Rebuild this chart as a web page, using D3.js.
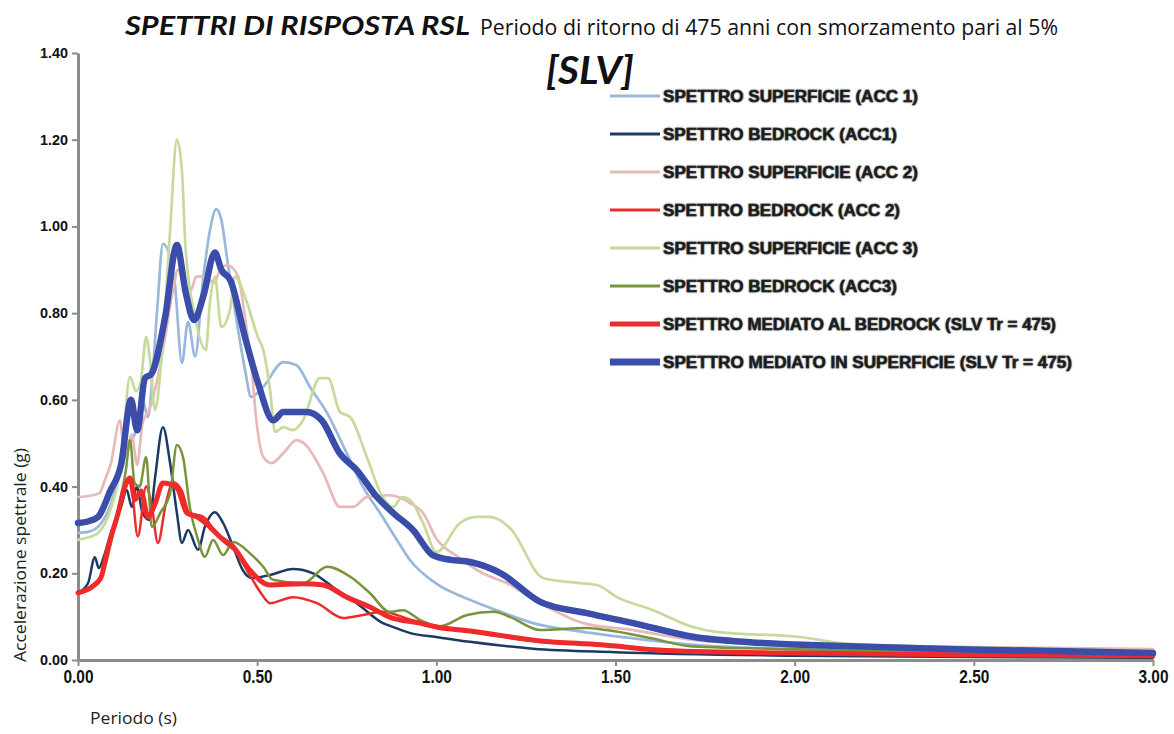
<!DOCTYPE html>
<html>
<head>
<meta charset="utf-8">
<script src="https://cdn.jsdelivr.net/npm/d3@7"></script>
<style>
  body { margin: 0; background: #fff; }
  svg { display: block; }
</style>
</head>
<body>
<svg id="chart" width="1174" height="734"></svg>
<script>
// Response spectra, period (s) vs spectral acceleration (g)
const supAcc1 = [[0,0.293],[0.03,0.296],[0.056,0.307],[0.092,0.36],[0.12,0.44],[0.14,0.49],[0.162,0.53],[0.18,0.60],[0.195,0.56],[0.21,0.68],[0.222,0.82],[0.237,0.96],[0.257,0.93],[0.27,0.87],[0.29,0.685],[0.307,0.78],[0.327,0.70],[0.348,0.87],[0.368,0.99],[0.386,1.04],[0.40,1.015],[0.418,0.915],[0.447,0.76],[0.466,0.67],[0.483,0.607],[0.517,0.63],[0.573,0.687],[0.61,0.68],[0.647,0.63],[0.695,0.57],[0.75,0.477],[0.795,0.40],[0.85,0.33],[0.89,0.277],[0.927,0.23],[1.0,0.176],[1.09,0.14],[1.18,0.111],[1.27,0.085],[1.41,0.065],[1.55,0.05],[1.72,0.035],[2.0,0.025],[2.5,0.018],[3.0,0.014]];
const bedAcc1 = [[0,0.155],[0.028,0.177],[0.047,0.237],[0.058,0.212],[0.075,0.246],[0.092,0.293],[0.12,0.353],[0.136,0.392],[0.15,0.353],[0.164,0.40],[0.18,0.34],[0.2,0.323],[0.215,0.42],[0.237,0.537],[0.257,0.454],[0.276,0.339],[0.29,0.27],[0.307,0.30],[0.335,0.254],[0.354,0.307],[0.382,0.341],[0.405,0.316],[0.433,0.261],[0.46,0.207],[0.485,0.189],[0.536,0.196],[0.6,0.21],[0.656,0.2],[0.712,0.168],[0.778,0.131],[0.851,0.085],[0.88,0.076],[0.927,0.062],[1.0,0.053],[1.094,0.042],[1.27,0.026],[1.5,0.018],[2.0,0.01],[2.5,0.007],[3.0,0.005]];
const supAcc2 = [[0,0.376],[0.04,0.38],[0.06,0.385],[0.075,0.415],[0.092,0.454],[0.117,0.553],[0.13,0.47],[0.15,0.52],[0.165,0.45],[0.18,0.546],[0.2,0.58],[0.223,0.653],[0.243,0.745],[0.265,0.853],[0.279,0.90],[0.30,0.86],[0.315,0.853],[0.33,0.884],[0.355,0.884],[0.38,0.87],[0.40,0.906],[0.418,0.91],[0.447,0.884],[0.466,0.79],[0.483,0.685],[0.5,0.537],[0.517,0.468],[0.54,0.454],[0.573,0.477],[0.61,0.507],[0.63,0.50],[0.685,0.43],[0.731,0.353],[0.768,0.353],[0.806,0.376],[0.87,0.38],[0.927,0.362],[0.963,0.339],[1.0,0.28],[1.06,0.238],[1.13,0.20],[1.197,0.177],[1.29,0.131],[1.41,0.085],[1.55,0.069],[1.72,0.046],[2.0,0.035],[2.5,0.03],[3.0,0.025]];
const bedAcc2 = [[0,0.155],[0.03,0.165],[0.06,0.185],[0.085,0.26],[0.11,0.33],[0.13,0.39],[0.145,0.42],[0.167,0.285],[0.19,0.40],[0.205,0.36],[0.223,0.27],[0.245,0.36],[0.265,0.41],[0.29,0.39],[0.31,0.34],[0.33,0.335],[0.35,0.33],[0.38,0.30],[0.41,0.27],[0.44,0.25],[0.48,0.195],[0.51,0.155],[0.536,0.131],[0.6,0.145],[0.667,0.131],[0.74,0.097],[0.795,0.104],[0.851,0.111],[0.907,0.099],[0.955,0.085],[1.0,0.076],[1.094,0.065],[1.29,0.042],[1.46,0.035],[1.64,0.02],[2.0,0.015],[2.5,0.01],[3.0,0.008]];
const supAcc3 = [[0,0.277],[0.03,0.283],[0.056,0.293],[0.092,0.35],[0.12,0.45],[0.145,0.653],[0.162,0.62],[0.175,0.64],[0.19,0.745],[0.2,0.70],[0.215,0.577],[0.232,0.685],[0.257,0.99],[0.276,1.20],[0.29,1.13],[0.30,0.953],[0.327,0.79],[0.357,0.715],[0.368,0.823],[0.382,0.884],[0.40,0.768],[0.424,0.807],[0.438,0.884],[0.466,0.837],[0.502,0.745],[0.517,0.715],[0.536,0.623],[0.55,0.526],[0.573,0.537],[0.60,0.53],[0.628,0.553],[0.675,0.65],[0.698,0.65],[0.731,0.572],[0.76,0.56],[0.806,0.468],[0.85,0.376],[0.88,0.353],[0.904,0.376],[0.927,0.369],[0.963,0.316],[1.0,0.249],[1.066,0.316],[1.113,0.33],[1.15,0.33],[1.206,0.304],[1.298,0.189],[1.365,0.18],[1.448,0.173],[1.504,0.145],[1.605,0.115],[1.716,0.076],[1.78,0.065],[2.015,0.053],[2.15,0.037],[2.43,0.03],[3.0,0.02]];
const bedAcc3 = [[0,0.155],[0.028,0.16],[0.053,0.177],[0.075,0.215],[0.092,0.27],[0.115,0.36],[0.134,0.44],[0.145,0.507],[0.158,0.408],[0.172,0.40],[0.19,0.468],[0.206,0.307],[0.23,0.34],[0.257,0.385],[0.276,0.496],[0.293,0.468],[0.312,0.353],[0.335,0.277],[0.354,0.238],[0.377,0.277],[0.405,0.242],[0.433,0.272],[0.48,0.246],[0.517,0.215],[0.544,0.185],[0.628,0.177],[0.695,0.215],[0.76,0.192],[0.815,0.154],[0.87,0.111],[0.907,0.115],[0.955,0.092],[1.01,0.078],[1.086,0.104],[1.16,0.111],[1.206,0.099],[1.29,0.069],[1.42,0.074],[1.476,0.069],[1.6,0.05],[1.716,0.031],[2.0,0.025],[2.5,0.02],[3.0,0.015]];
const meanBedrock = [[0,0.155],[0.037,0.168],[0.064,0.19],[0.084,0.26],[0.112,0.339],[0.131,0.40],[0.145,0.42],[0.159,0.37],[0.176,0.39],[0.195,0.33],[0.215,0.36],[0.237,0.408],[0.276,0.397],[0.304,0.339],[0.332,0.33],[0.368,0.307],[0.396,0.284],[0.433,0.261],[0.48,0.207],[0.536,0.173],[0.628,0.176],[0.684,0.173],[0.75,0.145],[0.815,0.122],[0.87,0.099],[0.955,0.085],[1.0,0.076],[1.094,0.067],[1.29,0.044],[1.46,0.035],[1.64,0.022],[2.0,0.016],[2.5,0.012],[3.0,0.01]];
const meanSurface = [[0,0.316],[0.03,0.32],[0.056,0.33],[0.09,0.39],[0.12,0.45],[0.148,0.60],[0.165,0.53],[0.187,0.65],[0.205,0.66],[0.243,0.79],[0.276,0.957],[0.30,0.85],[0.324,0.784],[0.35,0.84],[0.382,0.94],[0.40,0.90],[0.425,0.876],[0.466,0.745],[0.502,0.64],[0.545,0.553],[0.573,0.572],[0.638,0.572],[0.68,0.553],[0.73,0.477],[0.778,0.438],[0.834,0.376],[0.88,0.339],[0.935,0.30],[0.99,0.242],[1.04,0.231],[1.094,0.226],[1.18,0.20],[1.29,0.134],[1.42,0.108],[1.55,0.085],[1.72,0.053],[1.875,0.041],[2.0,0.036],[2.15,0.032],[2.45,0.025],[3.0,0.016]];

const seriesLabels = [
  "SPETTRO SUPERFICIE (ACC 1)",
  "SPETTRO BEDROCK (ACC1)",
  "SPETTRO SUPERFICIE (ACC 2)",
  "SPETTRO BEDROCK (ACC 2)",
  "SPETTRO SUPERFICIE (ACC 3)",
  "SPETTRO BEDROCK (ACC3)",
  "SPETTRO MEDIATO AL BEDROCK (SLV Tr = 475)",
  "SPETTRO MEDIATO IN SUPERFICIE (SLV Tr = 475)"
];
const seriesData = [supAcc1, bedAcc1, supAcc2, bedAcc2, supAcc3, bedAcc3, meanBedrock, meanSurface];
const xTicks = [0, 0.5, 1.0, 1.5, 2.0, 2.5, 3.0];
const yTicks = [0, 0.2, 0.4, 0.6, 0.8, 1.0, 1.2, 1.4];

// Styling
const colors = ["#9ab7dc", "#1d3a63", "#e8b9b9", "#ee2a2a", "#c6da9c", "#78953b", "#ee2a2a", "#3a4daa"];
const widths = [2.7, 2.5, 2.7, 2.5, 2.7, 2.5, 5, 6.5];
const legendWidths = [3, 3, 3, 3, 3, 3, 5, 7];
const legendTextLen = [255, 234, 255, 237, 255, 234, 393, 409];

const svg = d3.select("#chart");
const x = d3.scaleLinear().domain([0, 3]).range([78, 1153]);
const y = d3.scaleLinear().domain([0, 1.4]).range([660, 53]);

const axisColor = "#8c8c8c";

// Axes
const yAxis = svg.append("g").attr("transform", "translate(78,0)")
  .call(d3.axisLeft(y).tickValues(yTicks).tickFormat(d3.format(".2f")).tickSize(6).tickSizeOuter(0).tickPadding(4));
const xAxis = svg.append("g").attr("transform", "translate(0,660)")
  .call(d3.axisBottom(x).tickValues(xTicks).tickFormat(d3.format(".2f")).tickSize(6).tickSizeOuter(0).tickPadding(4));

[yAxis, xAxis].forEach(g => {
  g.select(".domain").attr("stroke", axisColor).attr("stroke-width", 3);
  g.selectAll(".tick line").attr("stroke", axisColor).attr("stroke-width", 2);
});
yAxis.selectAll(".tick text")
  .attr("font-family", "Liberation Sans, Arial, sans-serif")
  .attr("font-weight", "bold").attr("font-size", 14).attr("fill", "#111")
  .attr("textLength", 28).attr("lengthAdjust", "spacingAndGlyphs");
xAxis.selectAll(".tick text")
  .attr("font-family", "Liberation Sans, Arial, sans-serif")
  .attr("font-weight", "bold").attr("font-size", 18).attr("fill", "#111")
  .attr("textLength", 30).attr("lengthAdjust", "spacingAndGlyphs");

// Lines
const line = d3.line().x(d => x(d[0])).y(d => y(d[1])).curve(d3.curveMonotoneX);
svg.append("g").selectAll("path").data(seriesData).join("path")
  .attr("d", line)
  .attr("fill", "none")
  .attr("stroke", (d, i) => colors[i])
  .attr("stroke-width", (d, i) => widths[i])
  .attr("stroke-linejoin", "round")
  .attr("stroke-linecap", "round");

// Legend
const legend = svg.append("g");
const rowY = d3.scaleLinear().domain([0, 7]).range([96, 362]);
seriesLabels.forEach((label, i) => {
  const yy = rowY(i);
  legend.append("line")
    .attr("x1", 610).attr("x2", 660).attr("y1", yy).attr("y2", yy)
    .attr("stroke", colors[i]).attr("stroke-width", legendWidths[i]);
  legend.append("text")
    .attr("x", 663).attr("y", yy + 6)
    .attr("font-family", "Liberation Sans, Arial, sans-serif")
    .attr("font-weight", "bold").attr("font-size", 16)
    .attr("fill", "#111")
    .attr("stroke", "#222").attr("stroke-width", 0.4)
    .attr("textLength", legendTextLen[i]).attr("lengthAdjust", "spacingAndGlyphs")
    .style("text-shadow", "0 0 1.5px #555")
    .text(label);
});

// Titles
svg.append("text")
  .attr("x", 125).attr("y", 35)
  .attr("font-family", "Lato, 'Open Sans', sans-serif")
  .attr("font-weight", "bold").attr("font-style", "italic").attr("font-size", 27)
  .attr("fill", "#111")
  .attr("textLength", 345).attr("lengthAdjust", "spacingAndGlyphs")
  .text("SPETTRI DI RISPOSTA RSL");
svg.append("text")
  .attr("x", 480).attr("y", 35)
  .attr("font-family", "'Open Sans', Lato, sans-serif")
  .attr("font-size", 21)
  .attr("fill", "#111")
  .attr("textLength", 578).attr("lengthAdjust", "spacingAndGlyphs")
  .text("Periodo di ritorno di 475 anni con smorzamento pari al 5%");
svg.append("text")
  .attr("x", 590).attr("y", 84).attr("text-anchor", "middle")
  .attr("font-family", "Lato, 'Open Sans', sans-serif")
  .attr("font-weight", "bold").attr("font-style", "italic").attr("font-size", 38)
  .attr("fill", "#111")
  .attr("textLength", 88).attr("lengthAdjust", "spacingAndGlyphs")
  .text("[SLV]");

// Axis titles
svg.append("text")
  .attr("transform", "translate(26,555) rotate(-90)")
  .attr("text-anchor", "middle")
  .attr("font-family", "'Open Sans', Lato, sans-serif")
  .attr("font-size", 17).attr("fill", "#222")
  .attr("textLength", 214).attr("lengthAdjust", "spacingAndGlyphs")
  .text("Accelerazione spettrale (g)");
svg.append("text")
  .attr("x", 90).attr("y", 724)
  .attr("font-family", "'Open Sans', Lato, sans-serif")
  .attr("font-size", 17).attr("fill", "#222")
  .attr("textLength", 87).attr("lengthAdjust", "spacingAndGlyphs")
  .text("Periodo (s)");
</script>
</body>
</html>
